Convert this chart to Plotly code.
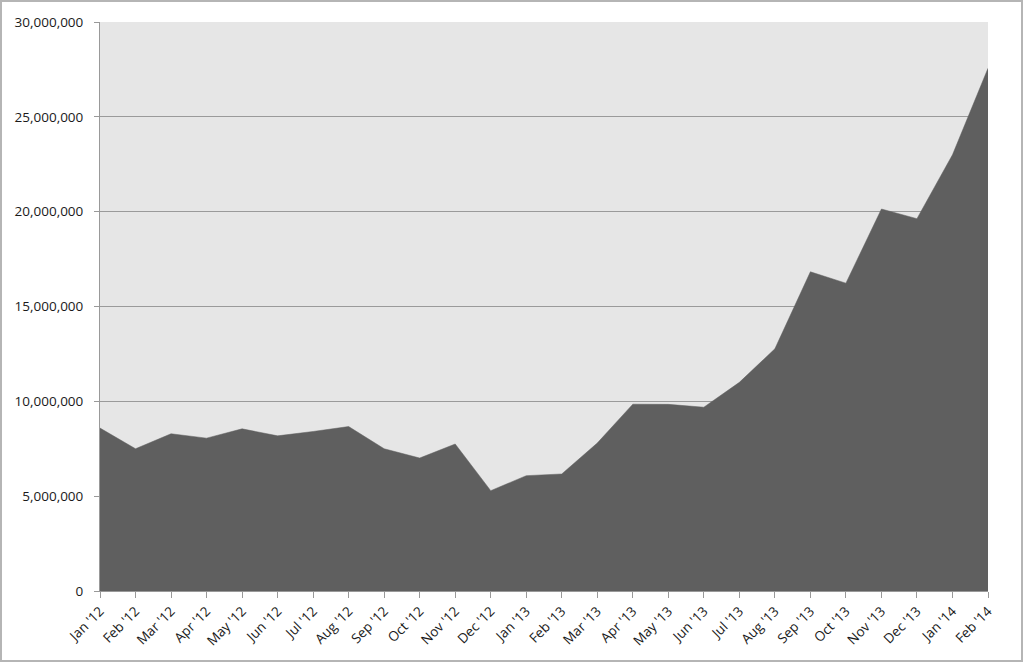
import plotly.graph_objects as go

months = ["Jan '12", "Feb '12", "Mar '12", "Apr '12", "May '12", "Jun '12",
          "Jul '12", "Aug '12", "Sep '12", "Oct '12", "Nov '12", "Dec '12",
          "Jan '13", "Feb '13", "Mar '13", "Apr '13", "May '13", "Jun '13",
          "Jul '13", "Aug '13", "Sep '13", "Oct '13", "Nov '13", "Dec '13",
          "Jan '14", "Feb '14"]
values = [8590000, 7500000, 8290000, 8060000, 8550000, 8180000,
          8410000, 8670000, 7500000, 7010000, 7750000, 5290000,
          6080000, 6170000, 7800000, 9850000, 9840000, 9690000,
          11000000, 12770000, 16830000, 16230000, 20140000, 19630000,
          23000000, 27560000]
y_ticks = [0, 5000000, 10000000, 15000000, 20000000, 25000000, 30000000]

W, H = 1024, 664
ml, mr, mt, mb = 100, 36, 22, 73
pw, ph = W - ml - mr, H - mt - mb

fig = go.Figure(go.Scatter(
    x=months, y=values,
    mode="lines", fill="tozeroy",
    fillcolor="#5f5f5f", line=dict(color="#5f5f5f", width=0.5),
    hoverinfo="x+y",
))

fig.update_layout(
    width=W, height=H,
    margin=dict(l=ml, r=mr, t=mt, b=mb),
    paper_bgcolor="white", plot_bgcolor="#e6e6e6",
    font=dict(family="Open Sans, sans-serif", size=13.5, color="#1a1a1a"),
    showlegend=False,
    xaxis=dict(
        type="category", range=[0, len(months) - 1],
        tickangle=-45, ticks="outside", ticklen=6, tickcolor="#999",
        showline=True, linecolor="#999", showgrid=False,
    ),
    yaxis=dict(
        range=[0, 30000000], tickvals=y_ticks,
        ticktext=[f"{v:,}" for v in y_ticks],
        ticks="outside", ticklen=5, tickcolor="#999", ticklabelstandoff=8,
        showline=True, linecolor="#999",
        gridcolor="#9a9a9a", gridwidth=1, zeroline=False,
    ),
    shapes=[dict(
        type="rect", xref="paper", yref="paper",
        x0=(1 - ml) / pw, x1=(W - 2 - ml) / pw,
        y0=-(H - 3 - mt - ph) / ph, y1=(ph + mt - 1) / ph,
        line=dict(color="#b5b5b5", width=2), layer="below",
    )],
)

fig.write_html("out.html", config={"displayModeBar": False},
               post_script="document.body.style.margin='0';")
